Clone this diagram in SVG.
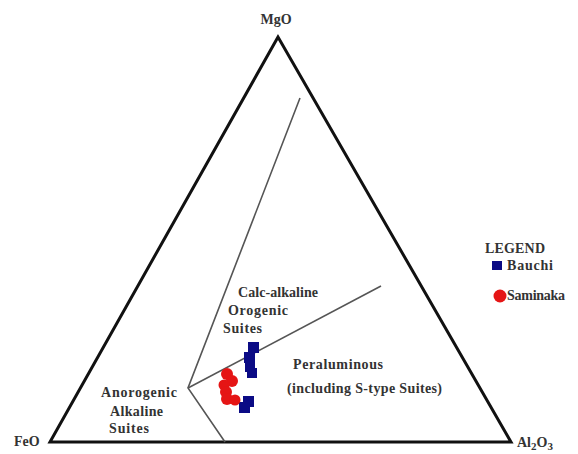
<svg xmlns="http://www.w3.org/2000/svg" width="578" height="454" viewBox="0 0 578 454">
<style>
text{font-family:"Liberation Serif","Times New Roman",serif;font-weight:bold;fill:#333;font-size:14px}
.frame{fill:none;stroke:#111;stroke-width:3;stroke-linejoin:miter}
.div{fill:none;stroke:#555;stroke-width:1.6}
.b{fill:#0b0b85}
.r{fill:#e51515}
</style>
<rect width="578" height="454" fill="#fff"/>
<g id="triangle">
<polygon class="frame" points="278,37 50,442 511,442"/>
</g>
<g id="connectors">
<polyline class="div" points="300,98 188,388 225,442"/>
<line class="div" x1="188" y1="388" x2="381" y2="286"/>
</g>
<g id="labels">
<text x="276" y="24" text-anchor="middle">MgO</text>
<text x="14" y="446">FeO</text>
<text x="517" y="447">Al<tspan dy="3" font-size="11">2</tspan><tspan dy="-3">O</tspan><tspan dy="3" font-size="11">3</tspan></text>
<text x="238" y="297" textLength="80">Calc-alkaline</text>
<text x="228" y="315" textLength="60">Orogenic</text>
<text x="223" y="333" textLength="39">Suites</text>
<text x="293" y="369" textLength="90">Peraluminous</text>
<text x="287" y="393" textLength="155">(including S-type Suites)</text>
<text x="101" y="397" textLength="76">Anorogenic</text>
<text x="110" y="416" textLength="53">Alkaline</text>
<text x="109" y="433" textLength="40">Suites</text>
</g>
<g id="bauchi">
<rect class="b" x="248" y="342" width="11" height="11"/>
<rect class="b" x="244" y="352" width="11" height="11"/>
<rect class="b" x="245" y="362" width="10" height="10"/>
<rect class="b" x="247" y="368" width="10" height="10"/>
<rect class="b" x="243" y="396" width="11" height="11"/>
<rect class="b" x="239" y="402" width="11" height="11"/>
</g>
<g id="saminaka">
<circle class="r" cx="227" cy="374" r="6"/>
<circle class="r" cx="232" cy="381" r="6"/>
<circle class="r" cx="224" cy="385" r="5.5"/>
<circle class="r" cx="226" cy="392" r="6"/>
<circle class="r" cx="227" cy="399" r="6"/>
<circle class="r" cx="235" cy="400" r="5.5"/>
</g>
<g id="legend">
<text x="485" y="253" textLength="60">LEGEND</text>
<rect class="b" x="492" y="261" width="10" height="9"/>
<text x="507" y="270" textLength="46">Bauchi</text>
<circle class="r" cx="500" cy="296" r="6.5"/>
<text x="507" y="300" textLength="58">Saminaka</text>
</g>
</svg>
